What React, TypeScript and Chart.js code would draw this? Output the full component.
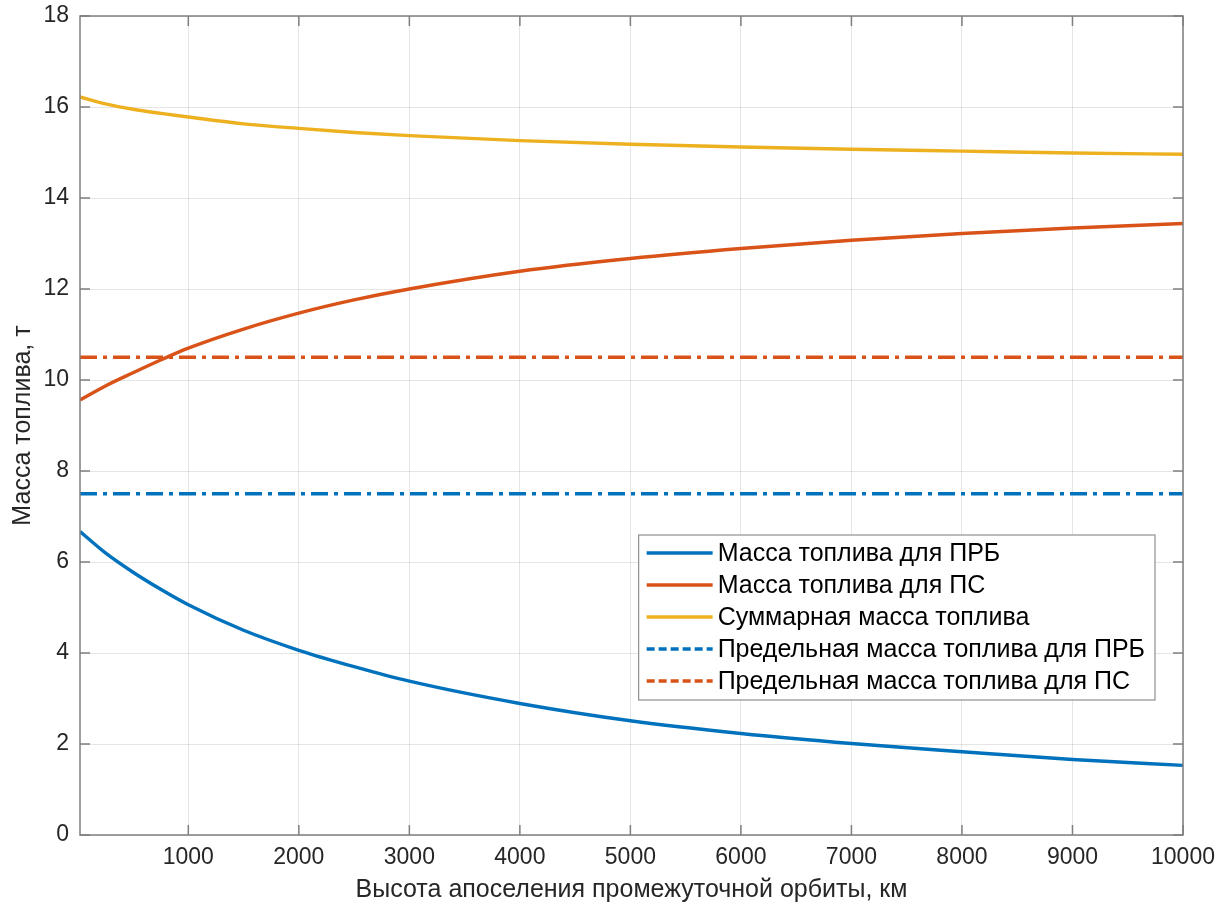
import { useEffect, useRef } from "react";
import { Chart, registerables } from "chart.js";

Chart.register(...registerables);

// ---- data ----
const X_MIN = 20;
const X_MAX = 10000;
const xValues = [20, 250, 500, 750, 1000, 1500, 2000, 2500, 3000, 4000, 5000, 6000, 7000, 8000, 9000, 10000];
const massPRB = [6.67, 6.2, 5.775, 5.4, 5.06, 4.5, 4.06, 3.7, 3.38, 2.89, 2.51, 2.23, 2.01, 1.83, 1.66, 1.53];
const massPS = [9.56, 9.87, 10.16, 10.44, 10.7, 11.12, 11.47, 11.76, 12.0, 12.39, 12.67, 12.89, 13.07, 13.22, 13.34, 13.44];
const massTotal = [16.22, 16.07, 15.95, 15.86, 15.78, 15.63, 15.53, 15.44, 15.37, 15.26, 15.18, 15.12, 15.07, 15.03, 14.99, 14.96];
const limitPRB = 7.5;
const limitPS = 10.5;
const xTicks = [1000, 2000, 3000, 4000, 5000, 6000, 7000, 8000, 9000, 10000];
const yTicks = [0, 2, 4, 6, 8, 10, 12, 14, 16, 18];
const seriesLabels = [
  "Масса топлива для ПРБ",
  "Масса топлива для ПС",
  "Суммарная масса топлива",
  "Предельная масса топлива для ПРБ",
  "Предельная масса топлива для ПС",
];
const xTitle = "Высота апоселения промежуточной орбиты, км";
const yTitle = "Масса топлива, т";

const BLUE = "#0072BD";
const ORANGE = "#D95319";
const YELLOW = "#EDB120";
const TEXT = "#262626";
const FONT_FAMILY = '"Liberation Sans", Arial, Helvetica, sans-serif';
const DASH_DOT = [17, 6, 4, 6];

const boxPlugin = {
  id: "matlabBox",
  afterDatasetsDraw(chart: any) {
    const { ctx, chartArea } = chart;
    const { left, right, top, bottom } = chartArea;
    const xs = chart.scales.x;
    const ys = chart.scales.y;
    const tl = 10;
    ctx.save();
    ctx.strokeStyle = "#7f7f7f";
    ctx.lineWidth = 1.5;
    ctx.setLineDash([]);
    ctx.beginPath();
    for (const v of xTicks) {
      const px = xs.getPixelForValue(v);
      ctx.moveTo(px, bottom);
      ctx.lineTo(px, bottom - tl);
      ctx.moveTo(px, top);
      ctx.lineTo(px, top + tl);
    }
    for (const v of yTicks) {
      const py = ys.getPixelForValue(v);
      ctx.moveTo(left, py);
      ctx.lineTo(left + tl, py);
      ctx.moveTo(right, py);
      ctx.lineTo(right - tl, py);
    }
    ctx.stroke();
    ctx.strokeRect(left, top, right - left, bottom - top);
    ctx.restore();
  },
};

const legendPlugin = {
  id: "insideLegend",
  afterDraw(chart: any) {
    const { ctx, chartArea } = chart;
    const datasets = chart.data.datasets;
    ctx.save();
    ctx.font = `25px ${FONT_FAMILY}`;
    const lineLen = 66;
    const padL = 8;
    const gap = 5;
    const padR = 10;
    const rowH = 32;
    const maxW = Math.max(...datasets.map((d: any) => ctx.measureText(d.label).width));
    const w = padL + lineLen + gap + maxW + padR;
    const h = 165;
    const x0 = chartArea.right - 28 - w;
    const y0 = chartArea.top + 519;
    ctx.fillStyle = "#ffffff";
    ctx.fillRect(x0, y0, w, h);
    ctx.strokeStyle = "#8f8f8f";
    ctx.lineWidth = 1.2;
    ctx.strokeRect(x0, y0, w, h);
    datasets.forEach((d: any, i: number) => {
      const cy = y0 + 18 + i * rowH;
      ctx.strokeStyle = d.borderColor;
      ctx.lineWidth = 3.3;
      ctx.setLineDash(d.borderDash ? [8, 4, 8, 4] : []);
      ctx.beginPath();
      ctx.moveTo(x0 + padL, cy);
      ctx.lineTo(x0 + padL + lineLen, cy);
      ctx.stroke();
      ctx.setLineDash([]);
      ctx.fillStyle = "#000000";
      ctx.textBaseline = "middle";
      ctx.textAlign = "left";
      ctx.fillText(d.label, x0 + padL + lineLen + gap, cy + 1);
    });
    ctx.restore();
  },
};

export default function App() {
  const ref = useRef<HTMLCanvasElement>(null);
  useEffect(() => {
    const canvas = ref.current;
    if (!canvas) return;
    const pts = (ys: number[]) => xValues.map((x, i) => ({ x, y: ys[i] }));
    const flat = (v: number) => [
      { x: X_MIN, y: v },
      { x: X_MAX, y: v },
    ];
    const common = { pointRadius: 0, borderWidth: 3.4, fill: false };
    const chart = new Chart(canvas, {
      type: "line",
      data: {
        datasets: [
          { ...common, label: seriesLabels[0], data: pts(massPRB), borderColor: BLUE, cubicInterpolationMode: "monotone" },
          { ...common, label: seriesLabels[1], data: pts(massPS), borderColor: ORANGE, cubicInterpolationMode: "monotone" },
          { ...common, label: seriesLabels[2], data: pts(massTotal), borderColor: YELLOW, cubicInterpolationMode: "monotone" },
          { ...common, label: seriesLabels[3], data: flat(limitPRB), borderColor: BLUE, borderDash: DASH_DOT },
          { ...common, label: seriesLabels[4], data: flat(limitPS), borderColor: ORANGE, borderDash: DASH_DOT },
        ] as any,
      },
      options: {
        animation: false,
        responsive: false,
        layout: { padding: { top: 16, right: 40, left: 0, bottom: 0 } },
        plugins: { legend: { display: false }, tooltip: { enabled: false } },
        scales: {
          x: {
            type: "linear",
            min: X_MIN,
            max: X_MAX,
            afterBuildTicks: (s: any) => {
              s.ticks = xTicks.map((v) => ({ value: v }));
            },
            afterFit: (s: any) => {
              s.height = 74;
              s.paddingLeft = 0;
              s.paddingRight = 0;
            },
            grid: { color: "rgba(38,38,38,0.12)", lineWidth: 1, drawTicks: false },
            border: { display: false },
            ticks: {
              autoSkip: false,
              maxRotation: 0,
              padding: 9,
              color: TEXT,
              font: { family: FONT_FAMILY, size: 23 },
              callback: (v: any) => String(v),
            },
            title: {
              display: true,
              text: xTitle,
              color: TEXT,
              font: { family: FONT_FAMILY, size: 25 },
              padding: { top: 0, bottom: 4 },
            },
          },
          y: {
            type: "linear",
            min: 0,
            max: 18,
            afterBuildTicks: (s: any) => {
              s.ticks = yTicks.map((v) => ({ value: v }));
            },
            afterFit: (s: any) => {
              s.width = 80;
              s.paddingTop = 0;
              s.paddingBottom = 0;
            },
            grid: { color: "rgba(38,38,38,0.12)", lineWidth: 1, drawTicks: false },
            border: { display: false },
            ticks: {
              autoSkip: false,
              padding: 11,
              color: TEXT,
              font: { family: FONT_FAMILY, size: 23 },
              callback: (v: any) => String(v),
            },
            title: {
              display: true,
              text: yTitle,
              color: TEXT,
              font: { family: FONT_FAMILY, size: 25 },
              padding: { top: 8, bottom: 0 },
            },
          },
        },
      },
      plugins: [boxPlugin, legendPlugin],
    });
    return () => chart.destroy();
  }, []);
  return (
    <div style={{ position: "fixed", left: 0, top: 0, width: 1223, height: 909, background: "#ffffff" }}>
      <canvas ref={ref} width={1223} height={909} style={{ display: "block" }} />
    </div>
  );
}
